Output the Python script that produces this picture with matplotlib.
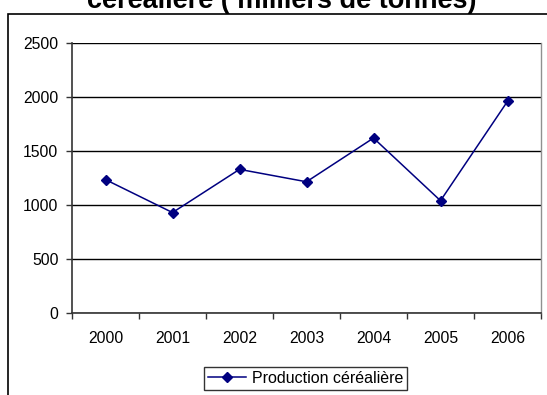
import matplotlib
matplotlib.use("Agg")
import matplotlib.pyplot as plt
from matplotlib.patches import Rectangle
import numpy as np

plt.rcParams['font.family'] = ['Liberation Sans', 'DejaVu Sans']

# Cereal production (thousands of tonnes)
years = ["2000", "2001", "2002", "2003", "2004", "2005", "2006"]
production = [1235, 930, 1330, 1215, 1620, 1040, 1960]
series_name = "Production céréalière"
title_text = "céréalière ( milliers de tonnes)"
y_ticks = [0, 500, 1000, 1500, 2000, 2500]

W, H = 547, 395
fig = plt.figure(figsize=(W / 100, H / 100), dpi=100)
fig.patch.set_facecolor("white")

# outer chart frame (extends past right and bottom edges)
fig.patches.append(Rectangle((8 / W, -0.1), 1.2, 1 - 14 / H + 0.1,
                             transform=fig.transFigure, fill=False,
                             edgecolor="black", linewidth=1.2))

# title (first line lies above the canvas)
fig.text(282 / W, 1 - 8 / H, title_text, ha="center", va="baseline",
         fontsize=19.5, fontweight="bold", color="black")

left, right, top, bottom = 72, 541, 43, 313
ax = fig.add_axes([left / W, 1 - bottom / H, (right - left) / W, (bottom - top) / H])

x = np.arange(len(years))
line, = ax.plot(x, production, color="#000080", linewidth=1.1, marker="D",
                markersize=5, markeredgecolor="#000080", markerfacecolor="#000080",
                label=series_name, zorder=3)

ax.set_xlim(-0.5, len(years) - 0.5)
ax.set_ylim(0, 2500)
ax.set_yticks(y_ticks)
ax.set_yticklabels([str(v) for v in y_ticks])
ax.yaxis.grid(True, color="black", linewidth=1.0)
ax.set_axisbelow(True)

# category labels centered, tick marks between categories
ax.set_xticks(x)
ax.set_xticklabels(years)
ax.set_xticks(np.arange(-0.5, len(years)), minor=True)
ax.tick_params(axis="x", which="major", length=0, pad=13, labelsize=11.3)
ax.tick_params(axis="x", which="minor", length=4, width=1.0, color="#333333")
ax.tick_params(axis="y", length=4, width=1.0, color="#333333", pad=5.8, labelsize=11.3)

for s in ["left", "bottom"]:
    ax.spines[s].set_color("#333333")
    ax.spines[s].set_linewidth(1.2)
ax.spines["right"].set_color("#909090")
ax.spines["right"].set_linewidth(1.0)
ax.spines["top"].set_visible(False)

leg = fig.legend(handles=[line], loc="upper center",
                 bbox_to_anchor=(305.5 / W, 1 - 367 / H), fontsize=11.5,
                 frameon=True, fancybox=False, edgecolor="black",
                 handlelength=2.4, handletextpad=0.38, borderpad=0.25,
                 borderaxespad=0)
leg.get_frame().set_linewidth(1.0)

fig.savefig("out.png", dpi=100)
